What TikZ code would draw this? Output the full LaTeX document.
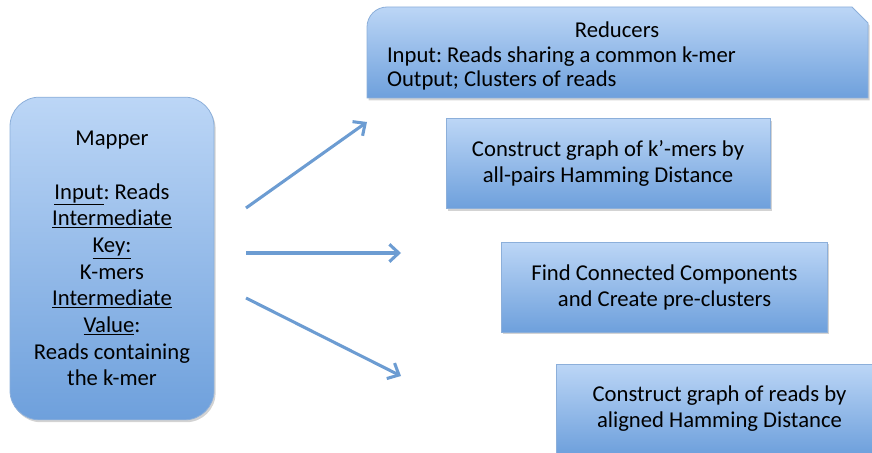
\documentclass[tikz,border=0pt]{standalone}
\usepackage{fontspec}
\setmainfont{Carlito}
\usetikzlibrary{arrows.meta}
\usetikzlibrary{shadows}
\frenchspacing

\definecolor{boxtop}{RGB}{188,214,246}
\definecolor{boxbot}{RGB}{110,160,220}
\definecolor{boxline}{RGB}{140,175,218}
\definecolor{arrowblue}{RGB}{108,156,210}

\tikzset{
  stagebox/.style={draw=boxline, line width=0.6pt, top color=boxtop, bottom color=boxbot,
    drop shadow={opacity=0.35, shadow xshift=1.2pt, shadow yshift=-1.8pt},
    align=center, font=\fontsize{17}{19.5}\selectfont, inner sep=0pt},
  flow/.style={arrowblue, line width=2.3pt, -{Straight Barb[length=7pt, width=13pt, line width=2.3pt]}}
}

\begin{document}
\begin{tikzpicture}[x=0.75pt, y=-0.75pt]

  \useasboundingbox (0,0) rectangle (872,453);

  % Mapper (left)
  \node[stagebox, rounded corners=22pt, minimum width=153pt, minimum height=242pt,
        font=\fontsize{17}{20}\selectfont] (mapper) at (112,258.5)
    {Mapper\\[20pt]
     \underline{Input}: Reads\\
     \underline{Intermediate}\\
     \underline{Key:}\\
     K-mers\\
     \underline{Intermediate}\\
     \underline{Value}:\\
     Reads containing\\
     the k-mer};

  % Reducers (snipped top right corner)
  \shade[top color=boxtop, bottom color=boxbot, draw=boxline, line width=0.6pt,
         drop shadow={opacity=0.35, shadow xshift=1.2pt, shadow yshift=-1.8pt}]
    (367,98) -- (367,27) arc (180:270:20) -- (852,7) -- (868,23) -- (868,98) -- cycle;
  \node[align=flush left, text width=345pt, font=\fontsize{17}{18.5}\selectfont] (reducers) at (617,56)
    {\makebox[\linewidth][c]{Reducers}\\
     Input: Reads sharing a common k-mer\\
     Output; Clusters of reads};

  % Reducer steps
  \node[stagebox, minimum width=243pt, minimum height=67pt] (kgraph) at (608,163.5)
    {Construct graph of k'-mers by\\ all-pairs Hamming Distance};
  \node[stagebox, minimum width=244pt, minimum height=67.5pt] (concomp) at (664.5,287)
    {Find Connected Components\\ and Create pre-clusters};
  \node[stagebox, minimum width=244pt, minimum height=67.5pt] (readgraph) at (719.5,409)
    {Construct graph of reads by\\ aligned Hamming Distance};

  % Arrows
  \coordinate (up0) at (246,208);
  \coordinate (up1) at (367,122);
  \coordinate (mid0) at (246,253);
  \coordinate (mid1) at (401,253);
  \coordinate (dn0) at (246,298);
  \coordinate (dn1) at (401,376);
  \draw[flow] (up0) -- (up1);
  \draw[flow] (mid0) -- (mid1);
  \draw[flow] (dn0) -- (dn1);

\end{tikzpicture}
\end{document}
